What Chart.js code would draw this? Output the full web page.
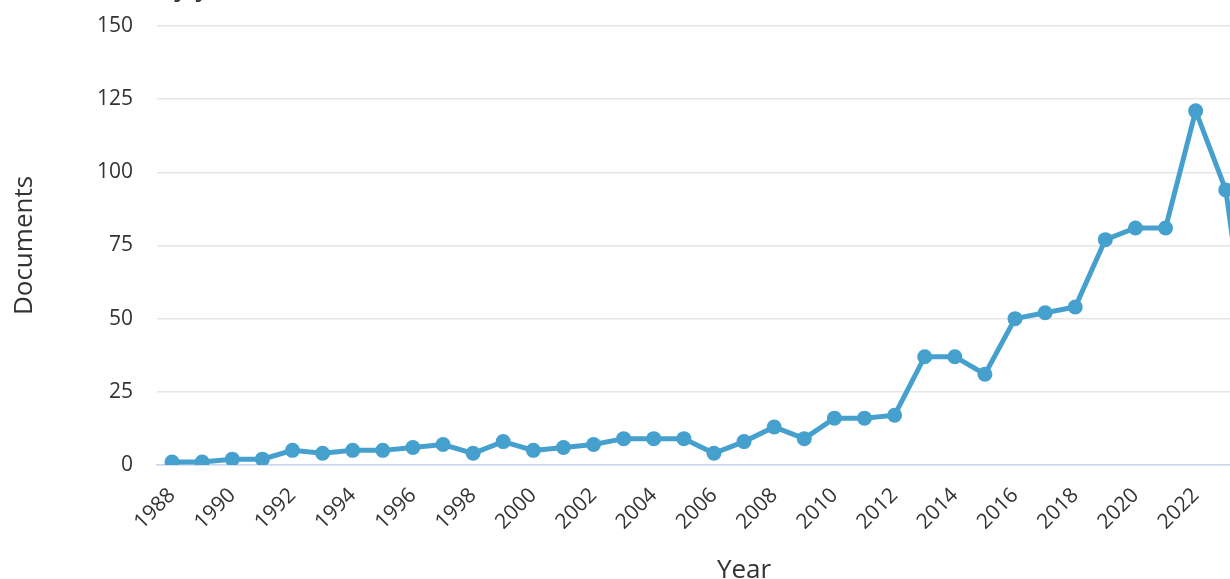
<!DOCTYPE html>
<html>
<head>
<meta charset="utf-8">
<script src="https://cdn.jsdelivr.net/npm/chart.js@4"></script>
<style>
  html, body { margin: 0; padding: 0; overflow: hidden; background: #fff; }
  body { width: 1230px; height: 579px; position: relative; }
  #wrap { position: absolute; left: 0; top: -30px; width: 1344px; height: 618px; }
</style>
</head>
<body>
<div id="wrap"><canvas id="myChart" width="1344" height="618"></canvas></div>
<script>
const years = ['1988', '1989', '1990', '1991', '1992', '1993', '1994', '1995', '1996', '1997',
    '1998', '1999', '2000', '2001', '2002', '2003', '2004', '2005', '2006', '2007',
    '2008', '2009', '2010', '2011', '2012', '2013', '2014', '2015', '2016', '2017',
    '2018', '2019', '2020', '2021', '2022', '2023', '2024', '2025', '2026'];
const documents = [1, 1, 2, 2, 5, 4, 5, 5, 6, 7,
    4, 8, 5, 6, 7, 9, 9, 9, 4, 8,
    13, 9, 16, 16, 17, 37, 37, 31, 50, 52,
    54, 77, 81, 81, 121, 94, 20, null, null];
const xTickLabels = ['1988', '1990', '1992', '1994', '1996', '1998', '2000', '2002', '2004',
    '2006', '2008', '2010', '2012', '2014', '2016', '2018', '2020', '2022'];
const yTicks = [0, 25, 50, 75, 100, 125, 150];

const ctx = document.getElementById('myChart');
const lineBlue = '#46a0cd';
const font = '"Open Sans", "Noto Sans", sans-serif';

new Chart(ctx, {
    type: 'line',
    data: {
        labels: years,
        datasets: [{
            data: documents,
            borderColor: lineBlue,
            backgroundColor: lineBlue,
            borderWidth: 5,
            pointRadius: 7.5,
            pointBorderWidth: 0,
            pointBackgroundColor: lineBlue,
            tension: 0
        }]
    },
    options: {
        responsive: false,
        animation: false,
        devicePixelRatio: 1,
        layout: {
            padding: 0
        },
        scales: {
            x: {
                offset: true,
                grid: {
                    display: false
                },
                border: {
                    color: '#ccd6eb',
                    width: 1.5
                },
                ticks: {
                    autoSkip: false,
                    maxRotation: 45,
                    minRotation: 45,
                    padding: 10,
                    color: '#333',
                    font: { size: 21, family: font },
                    callback: function(value) {
                        const label = this.getLabelForValue(value);
                        return xTickLabels.includes(label) ? label : '';
                    }
                },
                title: {
                    display: true,
                    text: 'Year',
                    color: '#333',
                    font: { size: 26, family: font },
                    padding: { top: 0, bottom: 2 }
                },
                afterFit: function(scale) {
                    scale.height = 123;
                }
            },
            y: {
                min: 0,
                max: 150,
                afterBuildTicks: function(scale) {
                    scale.ticks = yTicks.map(v => ({ value: v }));
                },
                grid: {
                    drawTicks: false,
                    lineWidth: 1.5,
                    color: function(c) {
                        return c.tick && c.tick.value === 0 ? '#dde1ef' : '#e6e6e6';
                    }
                },
                border: {
                    display: false
                },
                ticks: {
                    padding: 24,
                    color: '#333',
                    font: { size: 21, family: font }
                },
                title: {
                    display: true,
                    text: 'Documents',
                    color: '#333',
                    font: { size: 26, family: font },
                    padding: { top: 9, bottom: 0 }
                },
                afterFit: function(scale) {
                    scale.width = 157;
                }
            }
        },
        plugins: {
            legend: {
                display: false
            },
            tooltip: {
                enabled: false
            },
            title: {
                display: true,
                text: 'Documents by year',
                align: 'start',
                color: '#333',
                font: { size: 28, weight: 'normal', family: font },
                padding: { top: 0, bottom: 22.4 }
            }
        }
    }
});
</script>
</body>
</html>
